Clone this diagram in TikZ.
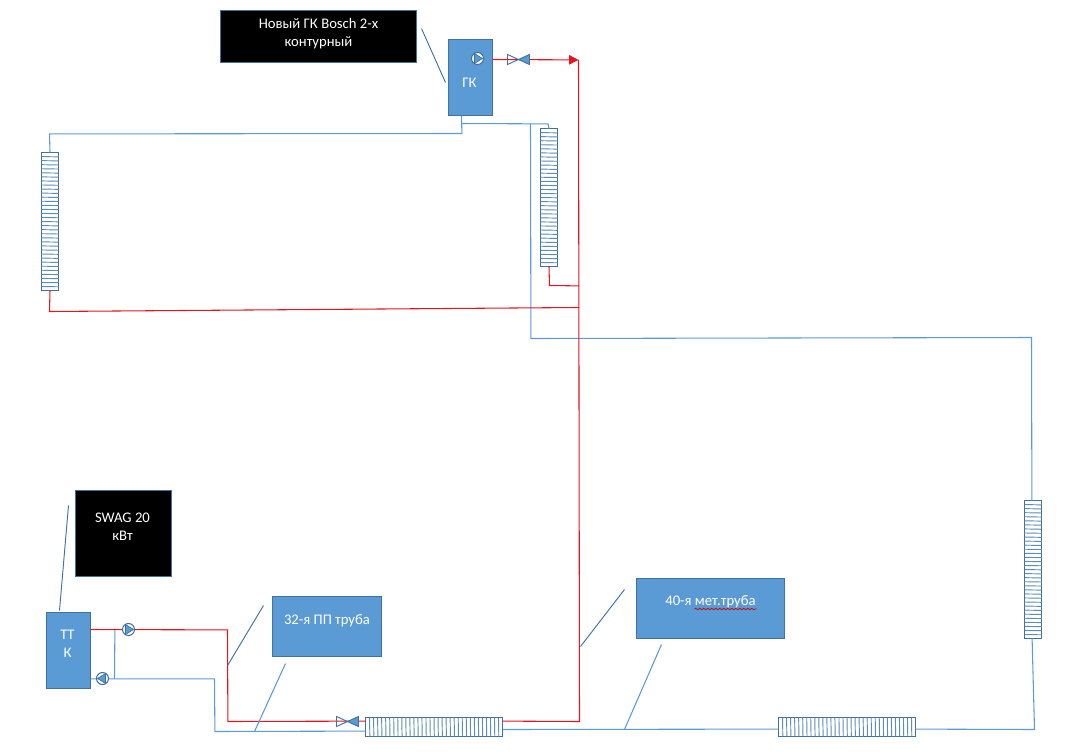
\documentclass[tikz,border=0pt]{standalone}
\usepackage{fontspec}
\setmainfont{Carlito}
\usetikzlibrary{decorations.pathmorphing,arrows.meta}
\definecolor{fillb}{HTML}{5B9BD5}
\definecolor{edgeb}{HTML}{41719C}
\definecolor{stripe}{HTML}{5A8DB8}
\definecolor{pipeb}{HTML}{5B9BD5}
\definecolor{piper}{HTML}{E5141E}
\tikzset{
  every node/.style={outer sep=0pt,inner sep=0pt,font=\fontsize{11pt}{13.2pt}\selectfont},
  blubox/.style={draw=edgeb,fill=fillb,text=white,align=center,line width=0.8pt},
  blkbox/.style={draw=edgeb,fill=black,text=white,align=center,line width=0.8pt},
  rad/.style={draw=edgeb,fill=white,line width=0.8pt},
  hot/.style={draw=piper,line width=0.8pt},
  cold/.style={draw=pipeb,line width=0.8pt},
  note/.style={draw=edgeb,line width=0.7pt},
  notel/.style={draw=pipeb,line width=0.8pt},
  pumpc/.style={circle,draw=edgeb,fill=white,minimum size=9pt,line width=0.8pt},
}
% name x1 y1 x2 y2 style text
\newcommand{\pxbox}[7]{%
  \pgfmathsetmacro{\cx}{(#2+#4)/2}\pgfmathsetmacro{\cy}{(#3+#5)/2}%
  \pgfmathsetmacro{\bw}{(#4-#2)*0.75}\pgfmathsetmacro{\bh}{(#5-#3)*0.75}%
  \node[#6,minimum width=\bw pt,minimum height=\bh pt] (#1) at (\cx,\cy) {#7};}
\newcommand{\vrad}[3]{% name x y(top)
  \pgfmathsetmacro{\xb}{#2+17}\pgfmathsetmacro{\yb}{#3+138}%
  \pxbox{#1}{#2}{#3}{\xb}{\yb}{rad}{}%
  \foreach \k in {1,...,33}{\pgfmathsetmacro{\yy}{\k*4.06+#3}\draw[stripe,line width=0.7pt] (#2,\yy) -- (\xb,\yy+0.3);}}
\newcommand{\hrad}[3]{% name x(left) y
  \pgfmathsetmacro{\xb}{#2+137}\pgfmathsetmacro{\yb}{#3+19}%
  \pxbox{#1}{#2}{#3}{\xb}{\yb}{rad}{}%
  \foreach \k in {1,...,33}{\pgfmathsetmacro{\xx}{\k*4.03+#2}\draw[stripe,line width=0.7pt] (\xx,#3) -- (\xx+0.3,\yb);}}
\newcommand{\valve}[3]{% name x(center) y
  \coordinate (#1) at (#2,#3);
  \draw[edgeb,line width=0.7pt] (#2-11,#3-5) -- (#2,#3) -- (#2-11,#3+5) -- cycle;
  \draw[edgeb,fill=fillb,line width=0.7pt] (#2+11,#3-5) -- (#2,#3) -- (#2+11,#3+5) -- cycle;}
\newcommand{\pump}[4]{% name x y direction
  \node[pumpc] (#1) at (#2,#3) {};
  \fill[fillb,draw=edgeb,line width=0.5pt] (#2+#4*5,#3) -- (#2-#4*3,#3-5) -- (#2-#4*3,#3+5) -- cycle;}
\begin{document}
\begin{tikzpicture}[x=0.75pt,y=-0.75pt]
\useasboundingbox (0,0) rectangle (1065,754);
\begin{scope}[shift={(0.5,0.5)}]
% named pipe points (real pipes run very slightly off-axis in the reference)
\coordinate (gkout) at (492,59);
\coordinate (arrowtip) at (578,59.4);
\coordinate (rbot) at (579,721);
\coordinate (rend) at (502,720.6);
\coordinate (rmid1) at (578.5,285.4);
\coordinate (rmid2) at (578.5,307);
\coordinate (h0) at (90,629);
\coordinate (h1) at (227,629.4);
\coordinate (h2) at (227.4,721);
\coordinate (h3) at (365,720.6);
\coordinate (k0) at (549,285);
\coordinate (k00) at (49,311);
\coordinate (gkb) at (461,115);
\coordinate (j0) at (461.4,133);
\coordinate (j1) at (461.2,123);
\coordinate (k1) at (49,133.4);
\coordinate (k2) at (547.6,123.4);
\coordinate (j2) at (530,123.2);
\coordinate (j3) at (530.4,338);
\coordinate (j4) at (1031,337);
\coordinate (j4b) at (1031.4,500);
\coordinate (j4c) at (1031.6,638);
\coordinate (j5) at (1034,729);
\coordinate (m1) at (915,728.6);
\coordinate (m2) at (778,728.6);
\coordinate (m3) at (502,729);
\coordinate (bp) at (114,678);
\coordinate (bp2) at (114.4,629);
\coordinate (b0) at (90,678.4);
\coordinate (c1) at (214,678.4);
\coordinate (c2) at (214.4,731);
\coordinate (c3) at (365,730.6);
% annotation free ends
\coordinate (n1a) at (421,28);\coordinate (n1b) at (445,82);
\coordinate (n2a) at (68,505);\coordinate (n2b) at (59,610);
\coordinate (n3a) at (263,605);\coordinate (n3b) at (227,665);
\coordinate (n4a) at (285,663);\coordinate (n4b) at (254,731);
\coordinate (n5a) at (624,589);\coordinate (n5b) at (580,646);
\coordinate (n6a) at (661,644);\coordinate (n6b) at (624,729);
% boxes
\pxbox{lbl1}{220}{10}{416}{62}{blkbox}{}
\node[text=white,align=center] (lbl1t) at (318,33) {Новый ГК Bosch 2-х\\контурный};
\pxbox{lbl2}{75}{490}{171}{576}{blkbox}{}
\node[text=white,align=center] (lbl2t) at (122,526) {SWAG 20\\кВт};
\pxbox{gk}{448}{39}{492}{115}{blubox}{}
\node[text=white] (gkt) at (469,82) {ГК};
\pxbox{ttk}{46}{612}{90}{688}{blubox}{}
\node[text=white,align=center] (ttkt) at (67,643) {ТТ\\К};
\pxbox{pp}{272}{596}{381}{656}{blubox}{}
\node[text=white] (ppt) at (326.5,620) {32-я ПП труба};
\pxbox{met}{636}{578}{784}{638}{blubox}{}
\node[text=white] (mett) at (710,601) {40-я мет.труба};
\draw[red!80!black,line width=0.5pt,decorate,decoration={snake,amplitude=0.6pt,segment length=3pt}] (694,608.5) -- (756,608.5);
% radiators
\vrad{r1}{41}{152}
\vrad{r2}{540}{128}
\vrad{r3}{1024}{500}
\hrad{r4}{365}{717}
\hrad{r5}{778}{717}
% cold pipes
\draw[cold] (gkb) -- (j0) -- (k1) -- (r1.north);
\draw[cold] (j1) -- (k2) -- (r2.north);
\draw[cold] (j2) -- (j3) -- (j4) -- (j4b);
\draw[cold] (j4c) -- (j5) -- (m1);
\draw[cold] (m2) -- (m3);
\draw[cold] (bp2) -- (bp);
\draw[cold] (b0) -- (c1) -- (c2) -- (c3);
% hot pipes
\draw[hot] (arrowtip) -- (rbot) -- (rend);
\draw[hot] (r1.south) -- (k00) -- (rmid2);
\draw[hot] (r2.south) -- (k0) -- (rmid1);
\draw[hot] (h0) -- (h1) -- (h2) -- (h3);
\draw[hot,-{Triangle[length=7pt,width=7pt]}] (gkout) -- (arrowtip);
% annotation lines
\draw[note] (n1a) -- (n1b);
\draw[note] (n2a) -- (n2b);
\draw[note] (n3a) -- (n3b);
\draw[notel] (n4a) -- (n4b);
\draw[note] (n5a) -- (n5b);
\draw[notel] (n6a) -- (n6b);
% fittings
\valve{v1}{518}{59}
\valve{v2}{347}{721}
\pump{pg}{477}{58}{1}
\pump{pt}{128}{629}{1}
\pump{pb}{102}{678}{-1}
\end{scope}
\end{tikzpicture}
\end{document}
